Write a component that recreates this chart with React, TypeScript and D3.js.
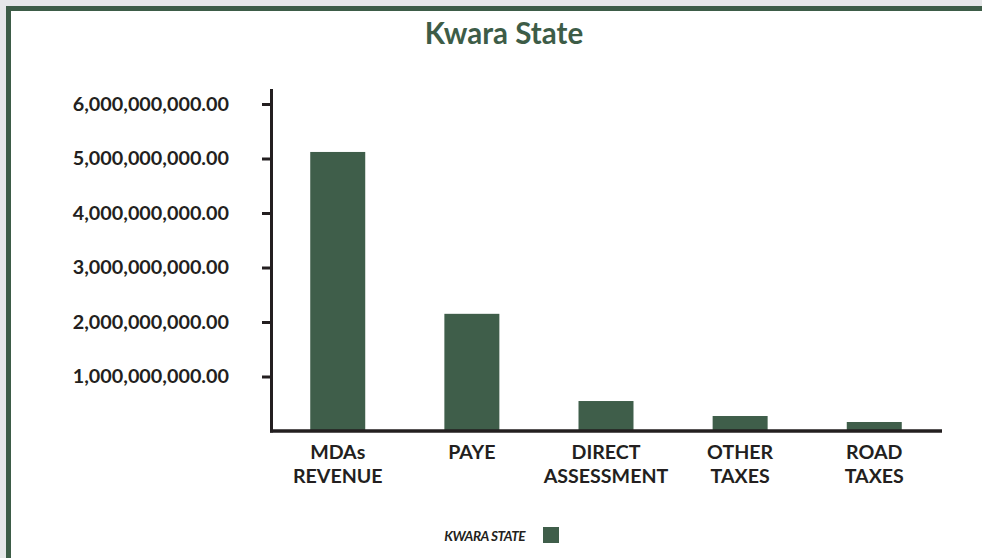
import React, { useRef, useEffect } from 'react';
import * as d3 from 'd3';

// kwara state revenue by source
const categories = ['MDAs REVENUE', 'PAYE', 'DIRECT ASSESSMENT', 'OTHER TAXES', 'ROAD TAXES'];
const labelLines = [['MDAs', 'REVENUE'], ['PAYE'], ['DIRECT', 'ASSESSMENT'], ['OTHER', 'TAXES'], ['ROAD', 'TAXES']];
const kwaraValues = [5120000000, 2150000000, 550000000, 275000000, 165000000];
const yTicks = [1000000000, 2000000000, 3000000000, 4000000000, 5000000000, 6000000000];
const seriesName = 'KWARA STATE';

const green = '#3f5e4a';
const ink = '#231f20';

const App = () => {
  const ref = useRef<SVGSVGElement>(null);
  const width = 982, height = 558;

  useEffect(() => {
    const svg = d3.select(ref.current);
    svg.selectAll('*').remove();

    // frame
    svg.append('rect').attr('width', width).attr('height', height).attr('fill', '#e6e7e9');
    svg.append('rect').attr('x', 6).attr('y', 6).attr('width', width + 20).attr('height', height + 20).attr('fill', '#3d5c47');
    svg.append('rect').attr('x', 11).attr('y', 11).attr('width', width + 20).attr('height', height + 20).attr('fill', '#fff');

    svg.append('text').attr('x', 504).attr('y', 44).attr('text-anchor', 'middle')
      .attr('font-family', 'Lato').attr('font-weight', 700).attr('font-size', 29.5)
      .attr('fill', '#3d5c47').text('Kwara State');

    const x0 = 270, x1 = 942, yTop = 89;
    const x = d3.scaleBand().domain(categories).range([x0, x1]).paddingInner(0.59).paddingOuter(0.3);
    const y = d3.scaleLinear().domain([0, 6000000000]).range([431, 104]);

    const chart = svg.append('g');

    chart.selectAll('rect.bar').data(kwaraValues).enter().append('rect')
      .attr('class', 'bar')
      .attr('x', (d, i) => x(categories[i])!)
      .attr('y', d => y(d))
      .attr('width', x.bandwidth())
      .attr('height', d => y(0) - y(d))
      .attr('fill', green);

    // y axis
    const fmt = d3.format(',.2f');
    const yAxis = chart.append('g').attr('transform', `translate(${x0 + 2},0)`)
      .call(d3.axisLeft(y).tickValues(yTicks).tickSize(10).tickSizeOuter(0).tickFormat(d => fmt(d as number)));
    yAxis.select('.domain').remove();
    yAxis.selectAll('.tick line').attr('stroke', ink).attr('stroke-width', 3);
    yAxis.selectAll('.tick text').attr('x', -43).attr('fill', ink)
      .attr('font-family', 'Lato').attr('font-weight', 700).attr('font-size', 19.8);
    chart.append('line').attr('x1', x0 + 1.5).attr('x2', x0 + 1.5).attr('y1', yTop).attr('y2', 432.5)
      .attr('stroke', ink).attr('stroke-width', 3);

    // x axis
    chart.append('line').attr('x1', x0).attr('x2', x1).attr('y1', 431).attr('y2', 431)
      .attr('stroke', ink).attr('stroke-width', 3.5);

    const xl = chart.selectAll('text.cat').data(labelLines).enter().append('text')
      .attr('class', 'cat')
      .attr('x', (d, i) => x(categories[i])! + x.bandwidth() / 2)
      .attr('y', 459)
      .attr('text-anchor', 'middle')
      .attr('font-family', 'Lato').attr('font-weight', 700).attr('font-size', 19.6).attr('fill', ink);
    xl.selectAll('tspan').data(d => d).enter().append('tspan')
      .attr('x', function () { return (this as any).parentNode.getAttribute('x'); })
      .attr('dy', (d, i) => (i === 0 ? 0 : 24))
      .text(d => d);

    // legend
    svg.append('text').attr('x', 525).attr('y', 541).attr('text-anchor', 'end')
      .attr('font-family', 'Lato').attr('font-weight', 700).attr('font-style', 'italic')
      .attr('font-size', 13.6).attr('letter-spacing', -0.5).attr('fill', ink).text(seriesName);
    svg.append('rect').attr('x', 543).attr('y', 527).attr('width', 16).attr('height', 16).attr('fill', green);
  }, []);

  return (
    <div>
      <style>{`body{margin:0}`}</style>
      <svg ref={ref} width={width} height={height} style={{ display: 'block' }} />
    </div>
  );
};

export default App;
